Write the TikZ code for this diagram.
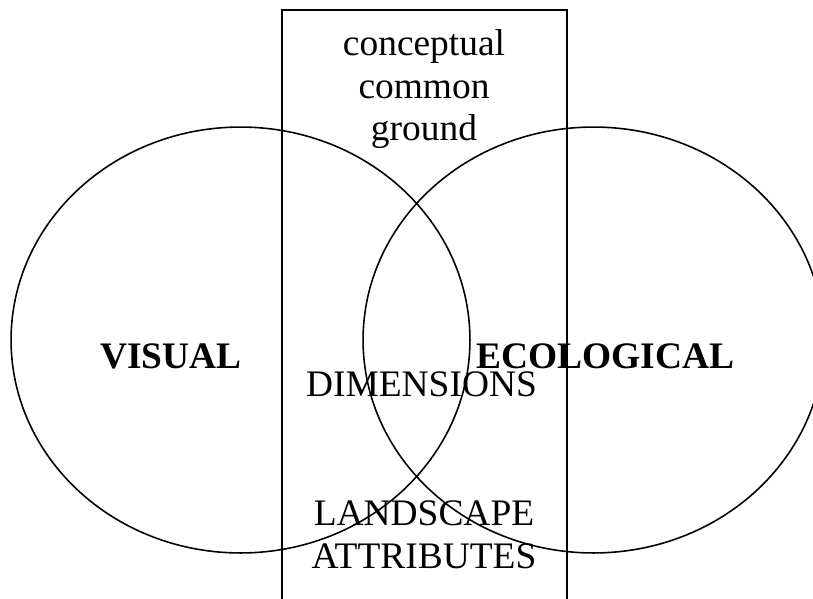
\documentclass[tikz,border=0pt]{standalone}
\usepackage{fontspec}
\setmainfont{Liberation Serif}
\usepackage{tikz}
\usetikzlibrary{positioning}

\begin{document}
\begin{tikzpicture}[x=0.02cm, y=-0.02cm, line width=0.9pt,
  every node/.style={font=\fontsize{21.3}{25}\selectfont, inner sep=0pt, anchor=base},
  heading/.style={font=\fontsize{21.3}{25}\selectfont\bfseries}]
  \useasboundingbox (0,0) rectangle (813,598);
  \clip (0,0) rectangle (813,598);

  % Common ground strip
  \draw (282,10) rectangle (567,620);
  \node (ccgA) at (424,55) {conceptual};
  \node (ccgB) at (424,98) {common};
  \node (ccgC) at (424,140) {ground};

  % Two circles
  \draw (240.5,340) ellipse [x radius=4.59cm, y radius=4.26cm];
  \draw (593.5,340) ellipse [x radius=4.61cm, y radius=4.26cm];
  \node[heading] (visual) at (171,368) {VISUAL};
  \node[heading] (ecological) at (605.5,368) {ECOLOGICAL};

  % Overlap labels
  \node (dims) at (421.5,396) {DIMENSIONS};
  \node (landA) at (424,525) {LANDSCAPE};
  \node (landB) at (424,568) {ATTRIBUTES};
\end{tikzpicture}
\end{document}
